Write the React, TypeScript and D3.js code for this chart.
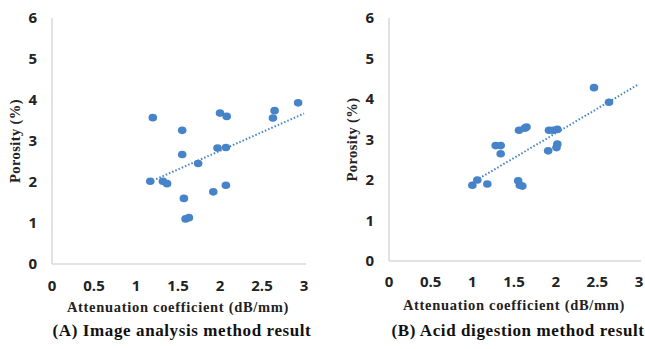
import React from 'react';
import * as d3 from 'd3';

const width = 645;
const height = 349;

const xTicks = [0, 0.5, 1, 1.5, 2, 2.5, 3];
const yTicks = [0, 1, 2, 3, 4, 5, 6];

// (A) image analysis: attenuation (dB/mm) vs porosity (%)
const atnA = [1.20, 1.55, 1.55, 1.17, 1.32, 1.37, 1.57, 1.59, 1.63, 1.74, 1.92, 2.07, 1.97, 2.07, 2.00, 2.08, 2.63, 2.65, 2.93];
const porA = [3.57, 3.26, 2.67, 2.02, 2.02, 1.96, 1.60, 1.10, 1.13, 2.45, 1.76, 1.92, 2.83, 2.84, 3.68, 3.60, 3.56, 3.74, 3.93];
const trendA = [[1.24, 2.07], [3.0, 3.67]];

// (B) acid digestion
const atnB = [1.00, 1.06, 1.18, 1.28, 1.34, 1.34, 1.55, 1.57, 1.60, 1.56, 1.65, 1.63, 1.91, 1.92, 1.97, 2.02, 2.02, 2.01, 2.46, 2.64];
const porB = [1.87, 2.00, 1.90, 2.85, 2.85, 2.65, 1.98, 1.87, 1.85, 3.23, 3.31, 3.28, 2.72, 3.23, 3.23, 3.25, 2.89, 2.80, 4.28, 3.92];
const trendB = [[1.01, 1.95], [3.0, 4.37]];

const dotColor = '#4683c9';
const axisColor = '#d9d9d9';
const tickFont = '"Open Sans", sans-serif';
const serifFont = '"Liberation Serif", "Times New Roman", serif';

function Panel({ xs, ys, trend, left, right, top, bottom, xLabelY, titleX, titleY, caption, captionX, yTitleX }) {
  const x = d3.scaleLinear().domain([0, 3]).range([left, right]);
  const y = d3.scaleLinear().domain([0, 6]).range([bottom, top]);
  const line = d3.line().x(d => x(d[0])).y(d => y(d[1]));
  return (
    <g>
      <line x1={left} x2={left} y1={top} y2={bottom} stroke={axisColor} strokeWidth="1.5" />
      <line x1={left} x2={right + 2} y1={bottom} y2={bottom} stroke={axisColor} strokeWidth="1.5" />
      {yTicks.map(t => (
        <text key={t} x={left - 15} y={y(t)} dy="0.35em" textAnchor="end"
          fontFamily={tickFont} fontWeight="700" fontSize="15" fill="#222">{t}</text>
      ))}
      {xTicks.map(t => (
        <text key={t} x={x(t)} y={xLabelY} textAnchor="middle"
          fontFamily={tickFont} fontWeight="700" fontSize="15" fill="#222">{t}</text>
      ))}
      <path d={line(trend)} fill="none" stroke={dotColor} strokeWidth="2" strokeDasharray="1.5 2" />
      {xs.map((v, i) => (
        <ellipse key={i} cx={x(v)} cy={y(ys[i])} rx="4.3" ry="3.8" fill={dotColor} />
      ))}
      <text transform={`translate(${yTitleX}, ${(top + bottom) / 2}) rotate(-90)`} textAnchor="middle"
        dy="0.35em" fontFamily={serifFont} fontWeight="700" fontSize="14.5" letterSpacing="0.4"
        fill="#222">Porosity (%)</text>
      <text x={titleX} y={titleY} textAnchor="middle" fontFamily={serifFont} fontWeight="700"
        fontSize="14.5" letterSpacing="0.7" fill="#222">Attenuation coefficient (dB/mm)</text>
      <text x={captionX} y={336} textAnchor="middle" fontFamily={serifFont} fontWeight="700"
        fontSize="17" letterSpacing="0.6" fill="#111">{caption}</text>
    </g>
  );
}

export default function App() {
  return (
    <svg width={width} height={height} style={{ position: 'absolute', left: 0, top: 0, background: '#fff' }}>
      <Panel xs={atnA} ys={porA} trend={trendA} left={52} right={304} top={18} bottom={264}
        xLabelY={291} titleX={178} titleY={312} caption="(A) Image analysis method result" captionX={182}
        yTitleX={15} />
      <Panel xs={atnB} ys={porB} trend={trendB} left={389} right={639} top={18} bottom={261}
        xLabelY={287} titleX={514} titleY={310} caption="(B) Acid digestion method result" captionX={518}
        yTitleX={352} />
    </svg>
  );
}
